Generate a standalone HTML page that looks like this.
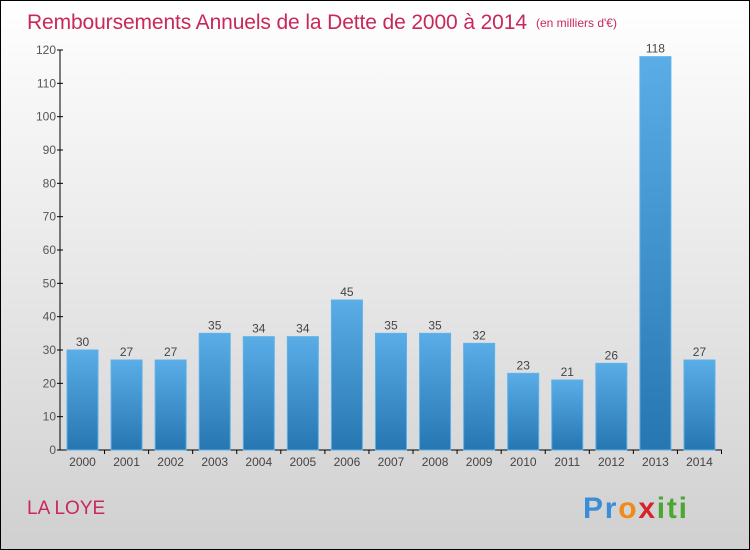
<!DOCTYPE html>
<html><head><meta charset="utf-8"><style>
body{margin:0;width:750px;height:550px;overflow:hidden;}
svg{display:block;font-family:"Liberation Sans",sans-serif;}
</style></head><body>
<svg id="chart" width="750" height="550">
<defs>
<linearGradient id="bg" x1="0" y1="0" x2="0" y2="1"><stop offset="0" stop-color="#ffffff"/><stop offset="1" stop-color="#d0d0d0"/></linearGradient>
<linearGradient id="bar" x1="0" y1="0" x2="0" y2="1"><stop offset="0" stop-color="#5aade6"/><stop offset="1" stop-color="#2676b2"/></linearGradient>
</defs>
<rect x="0.5" y="0.5" width="749" height="549" fill="url(#bg)" stroke="#000"/>
<text x="27" y="29" font-size="21" fill="#c8285a" textLength="500">Remboursements Annuels de la Dette de 2000 à 2014</text>
<text x="536" y="27" font-size="12" fill="#c8285a">(en milliers d'€)</text>
<text x="27" y="514" font-size="19" fill="#c8285a">LA LOYE</text>
<text x="583" y="518" font-size="30" font-weight="bold" fill="#3a8ed8" textLength="104"><tspan fill="#3a8ed8">Pr</tspan><tspan fill="#f08a1c">o</tspan><tspan fill="#d4262a">x</tspan><tspan fill="#4aa832">iti</tspan></text>
<g id="axes"></g><g id="bars"></g>
</svg>
<script>
const years=["2000","2001","2002","2003","2004","2005","2006","2007","2008","2009","2010","2011","2012","2013","2014"];
const values=[30,27,27,35,34,34,45,35,35,32,23,21,26,118,27];
const yTicks=[0,10,20,30,40,50,60,70,80,90,100,110,120];
const NS="http://www.w3.org/2000/svg";
const y0=450,pxPer=400/120,x0=60,step=44.07,firstC=82.5,bw=31;
const yS=v=>y0-v*pxPer, xS=i=>firstC+i*step;
function mk(t,a,p,txt){const e=document.createElementNS(NS,t);for(const k in a)e.setAttribute(k,a[k]);if(txt!==undefined)e.textContent=txt;p.appendChild(e);return e;}
const ax=document.getElementById('axes'),bg=document.getElementById('bars');
let l=mk('line',{x1:x0,y1:50,x2:x0,y2:y0,stroke:'#000'},ax);


l=mk('line',{x1:x0,y1:y0,x2:722,y2:y0,stroke:'#000'},ax);


yTicks.forEach(v=>{
 mk('line',{x1:x0-3,y1:yS(v),x2:x0+3,y2:yS(v),stroke:'#000'},ax);
 const t=mk('text',{x:x0-4,y:yS(v)+4,'font-size':12,fill:'#555','text-anchor':'end'},ax,v);
 
 
});
years.forEach((y,i)=>{
 const v=values[i],c=xS(i);
 const r=mk('rect',{x:c-bw/2,y:yS(v),width:bw,height:v*pxPer,fill:'url(#bar)',stroke:'#5db2ea','stroke-width':1},bg);
 
 
 const t=mk('text',{x:c,y:yS(v)-4,'font-size':12,fill:'#444','text-anchor':'middle'},bg,v);
 
 
 const xl=mk('text',{x:c,y:466,'font-size':12,fill:'#444','text-anchor':'middle'},ax,y);
 
 
 mk('line',{x1:c+step/2,y1:y0,x2:c+step/2,y2:y0+4,stroke:'#000'},ax);
});
</script>
</body></html>
